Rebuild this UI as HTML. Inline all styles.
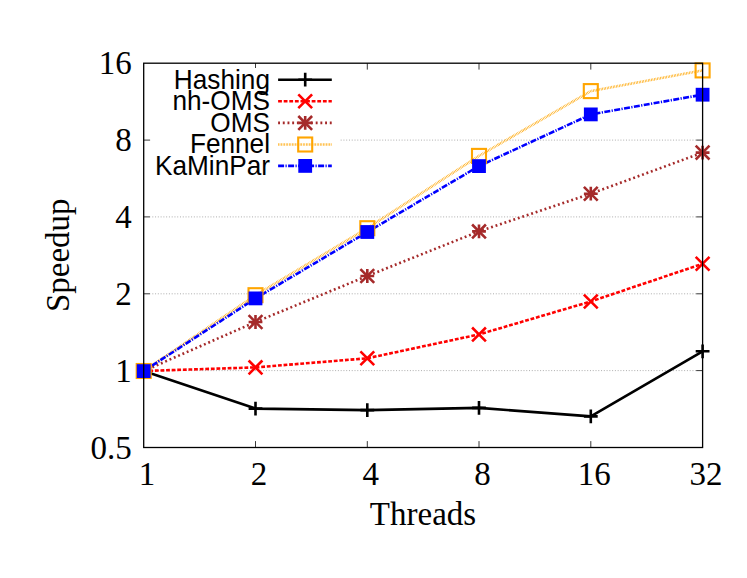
<!DOCTYPE html><html><head><meta charset="utf-8"><style>html,body{margin:0;padding:0;background:#fff}svg{display:block}text{font-family:"Liberation Serif",serif;font-size:33px;fill:#000}.lg{font-family:"Liberation Sans",sans-serif;font-size:27.45px}</style></head><body>
<svg width="747" height="578" viewBox="0 0 747 578">
<rect width="747" height="578" fill="#fff"/>
<line x1="152.3" y1="140.1" x2="696.1" y2="140.1" stroke="#999" stroke-width="0.8" stroke-dasharray="1 1.77"/>
<line x1="152.3" y1="216.9" x2="696.1" y2="216.9" stroke="#999" stroke-width="0.8" stroke-dasharray="1 1.77"/>
<line x1="152.3" y1="293.8" x2="696.1" y2="293.8" stroke="#999" stroke-width="0.8" stroke-dasharray="1 1.77"/>
<line x1="152.3" y1="370.6" x2="696.1" y2="370.6" stroke="#999" stroke-width="0.8" stroke-dasharray="1 1.77"/>
<path d="M143.7 140.1h6.4M702.6 140.1h-6.4" stroke="#222" stroke-width="0.9"/>
<path d="M143.7 216.9h6.4M702.6 216.9h-6.4" stroke="#222" stroke-width="0.9"/>
<path d="M143.7 293.8h6.4M702.6 293.8h-6.4" stroke="#222" stroke-width="0.9"/>
<path d="M143.7 370.6h6.4M702.6 370.6h-6.4" stroke="#222" stroke-width="0.9"/>
<path d="M255.5 63.2v6.4M255.5 447.5v-6.4" stroke="#222" stroke-width="0.9"/>
<path d="M367.3 63.2v6.4M367.3 447.5v-6.4" stroke="#222" stroke-width="0.9"/>
<path d="M479.0 63.2v6.4M479.0 447.5v-6.4" stroke="#222" stroke-width="0.9"/>
<path d="M590.8 63.2v6.4M590.8 447.5v-6.4" stroke="#222" stroke-width="0.9"/>
<rect x="151" y="68" width="188.7" height="109" fill="#fff"/>
<polyline points="143.7,371.0 255.5,408.6 367.3,410.1 479.0,407.9 590.8,416.4 702.6,351.3" fill="none" stroke="#000" stroke-width="2.6" stroke-linejoin="round"/>
<polyline points="143.7,371.0 255.5,367.4 367.3,358.3 479.0,334.4 590.8,301.5 702.6,263.8" fill="none" stroke="#f00" stroke-width="2.6" stroke-dasharray="3.8 1.8"/>
<polyline points="143.7,371.0 255.5,322.0 367.3,276.0 479.0,231.4 590.8,193.7 702.6,152.6" fill="none" stroke="#a52a2a" stroke-width="2.6" stroke-dasharray="1.9 2.8"/>
<polyline points="143.7,371.0 255.5,295.2 367.3,228.2 479.0,155.9 590.8,91.1 702.6,70.4" fill="none" stroke="#ffa500" stroke-width="2.6" stroke-dasharray="0.68 0.87"/>
<polyline points="143.7,371.1 255.5,298.4 367.3,232.0 479.0,166.1 590.8,114.4 702.6,94.7" fill="none" stroke="#00f" stroke-width="2.6" stroke-dasharray="6 1.4 1.2 1.4"/>
<path d="M136.8 371.0H150.6M143.7 364.1V377.9" stroke="#000" stroke-width="2.6" fill="none"/>
<path d="M248.6 408.6H262.4M255.5 401.7V415.5" stroke="#000" stroke-width="2.6" fill="none"/>
<path d="M360.4 410.1H374.2M367.3 403.2V417.0" stroke="#000" stroke-width="2.6" fill="none"/>
<path d="M472.1 407.9H485.9M479.0 401.0V414.8" stroke="#000" stroke-width="2.6" fill="none"/>
<path d="M583.9 416.4H597.7M590.8 409.5V423.3" stroke="#000" stroke-width="2.6" fill="none"/>
<path d="M695.7 351.3H709.5M702.6 344.4V358.2" stroke="#000" stroke-width="2.6" fill="none"/>
<path d="M136.8 364.1L150.6 377.9M136.8 377.9L150.6 364.1" stroke="#f00" stroke-width="2.6" fill="none"/>
<path d="M248.6 360.5L262.4 374.3M248.6 374.3L262.4 360.5" stroke="#f00" stroke-width="2.6" fill="none"/>
<path d="M360.4 351.4L374.2 365.2M360.4 365.2L374.2 351.4" stroke="#f00" stroke-width="2.6" fill="none"/>
<path d="M472.1 327.5L485.9 341.3M472.1 341.3L485.9 327.5" stroke="#f00" stroke-width="2.6" fill="none"/>
<path d="M583.9 294.6L597.7 308.4M583.9 308.4L597.7 294.6" stroke="#f00" stroke-width="2.6" fill="none"/>
<path d="M695.7 256.9L709.5 270.7M695.7 270.7L709.5 256.9" stroke="#f00" stroke-width="2.6" fill="none"/>
<path d="M136.8 364.1L150.6 377.9M136.8 377.9L150.6 364.1" stroke="#a52a2a" stroke-width="2.6" fill="none"/><path d="M136.8 371.0H150.6M143.7 364.1V377.9" stroke="#a52a2a" stroke-width="2.6" fill="none"/>
<path d="M248.6 315.1L262.4 328.9M248.6 328.9L262.4 315.1" stroke="#a52a2a" stroke-width="2.6" fill="none"/><path d="M248.6 322.0H262.4M255.5 315.1V328.9" stroke="#a52a2a" stroke-width="2.6" fill="none"/>
<path d="M360.4 269.1L374.2 282.9M360.4 282.9L374.2 269.1" stroke="#a52a2a" stroke-width="2.6" fill="none"/><path d="M360.4 276.0H374.2M367.3 269.1V282.9" stroke="#a52a2a" stroke-width="2.6" fill="none"/>
<path d="M472.1 224.5L485.9 238.3M472.1 238.3L485.9 224.5" stroke="#a52a2a" stroke-width="2.6" fill="none"/><path d="M472.1 231.4H485.9M479.0 224.5V238.3" stroke="#a52a2a" stroke-width="2.6" fill="none"/>
<path d="M583.9 186.8L597.7 200.6M583.9 200.6L597.7 186.8" stroke="#a52a2a" stroke-width="2.6" fill="none"/><path d="M583.9 193.7H597.7M590.8 186.8V200.6" stroke="#a52a2a" stroke-width="2.6" fill="none"/>
<path d="M695.7 145.7L709.5 159.5M695.7 159.5L709.5 145.7" stroke="#a52a2a" stroke-width="2.6" fill="none"/><path d="M695.7 152.6H709.5M702.6 145.7V159.5" stroke="#a52a2a" stroke-width="2.6" fill="none"/>
<rect x="136.7" y="364.0" width="14.0" height="14.0" stroke="#ffa500" stroke-width="2.1" fill="none"/>
<rect x="248.5" y="288.2" width="14.0" height="14.0" stroke="#ffa500" stroke-width="2.1" fill="none"/>
<rect x="360.3" y="221.2" width="14.0" height="14.0" stroke="#ffa500" stroke-width="2.1" fill="none"/>
<rect x="472.0" y="148.9" width="14.0" height="14.0" stroke="#ffa500" stroke-width="2.1" fill="none"/>
<rect x="583.8" y="84.1" width="14.0" height="14.0" stroke="#ffa500" stroke-width="2.1" fill="none"/>
<rect x="695.6" y="63.4" width="14.0" height="14.0" stroke="#ffa500" stroke-width="2.1" fill="none"/>
<rect x="136.8" y="364.2" width="13.8" height="13.8" fill="#00f"/>
<rect x="248.6" y="291.5" width="13.8" height="13.8" fill="#00f"/>
<rect x="360.4" y="225.1" width="13.8" height="13.8" fill="#00f"/>
<rect x="472.1" y="159.2" width="13.8" height="13.8" fill="#00f"/>
<rect x="583.9" y="107.5" width="13.8" height="13.8" fill="#00f"/>
<rect x="695.7" y="87.8" width="13.8" height="13.8" fill="#00f"/>
<text class="lg" transform="translate(270 88.6) scale(0.955 1)" text-anchor="end">Hashing</text>
<line x1="278.1" y1="79.7" x2="331.8" y2="79.7" stroke="#000" stroke-width="2.6"/>
<path d="M298.3 79.7H312.1M305.2 72.8V86.6" stroke="#000" stroke-width="2.6" fill="none"/>
<text class="lg" transform="translate(270 110.2) scale(0.955 1)" text-anchor="end">nh-OMS</text>
<line x1="278.1" y1="101.3" x2="331.8" y2="101.3" stroke="#f00" stroke-width="2.6" stroke-dasharray="3.8 1.8"/>
<path d="M298.3 94.4L312.1 108.2M298.3 108.2L312.1 94.4" stroke="#f00" stroke-width="2.6" fill="none"/>
<text class="lg" transform="translate(270 131.8) scale(0.955 1)" text-anchor="end">OMS</text>
<line x1="278.1" y1="122.9" x2="331.8" y2="122.9" stroke="#a52a2a" stroke-width="2.6" stroke-dasharray="1.9 2.8"/>
<path d="M298.3 116.0L312.1 129.8M298.3 129.8L312.1 116.0" stroke="#a52a2a" stroke-width="2.6" fill="none"/><path d="M298.3 122.9H312.1M305.2 116.0V129.8" stroke="#a52a2a" stroke-width="2.6" fill="none"/>
<text class="lg" transform="translate(270 153.4) scale(0.955 1)" text-anchor="end">Fennel</text>
<line x1="278.1" y1="144.5" x2="331.8" y2="144.5" stroke="#ffa500" stroke-width="2.6" stroke-dasharray="0.68 0.87"/>
<rect x="298.2" y="137.5" width="14.0" height="14.0" stroke="#ffa500" stroke-width="2.1" fill="none"/>
<text class="lg" transform="translate(270 174.8) scale(0.955 1)" text-anchor="end">KaMinPar</text>
<line x1="278.1" y1="165.9" x2="331.8" y2="165.9" stroke="#00f" stroke-width="2.6" stroke-dasharray="6 1.4 1.2 1.4"/>
<rect x="298.3" y="159.0" width="13.8" height="13.8" fill="#00f"/>
<rect x="143.7" y="63.2" width="558.9" height="384.3" fill="none" stroke="#000" stroke-width="1.3"/>
<text x="131.7" y="74.3" text-anchor="end">16</text>
<text x="131.7" y="151.2" text-anchor="end">8</text>
<text x="131.7" y="228.0" text-anchor="end">4</text>
<text x="131.7" y="304.9" text-anchor="end">2</text>
<text x="131.7" y="381.7" text-anchor="end">1</text>
<text x="131.7" y="458.6" text-anchor="end">0.5</text>
<text x="147.1" y="485.1" text-anchor="middle">1</text>
<text x="258.9" y="485.1" text-anchor="middle">2</text>
<text x="370.7" y="485.1" text-anchor="middle">4</text>
<text x="482.4" y="485.1" text-anchor="middle">8</text>
<text x="594.2" y="485.1" text-anchor="middle">16</text>
<text x="706.0" y="485.1" text-anchor="middle">32</text>
<text x="423" y="524.8" text-anchor="middle">Threads</text>
<text transform="translate(68.8 255.2) rotate(-90)" text-anchor="middle">Speedup</text>
</svg></body></html>
